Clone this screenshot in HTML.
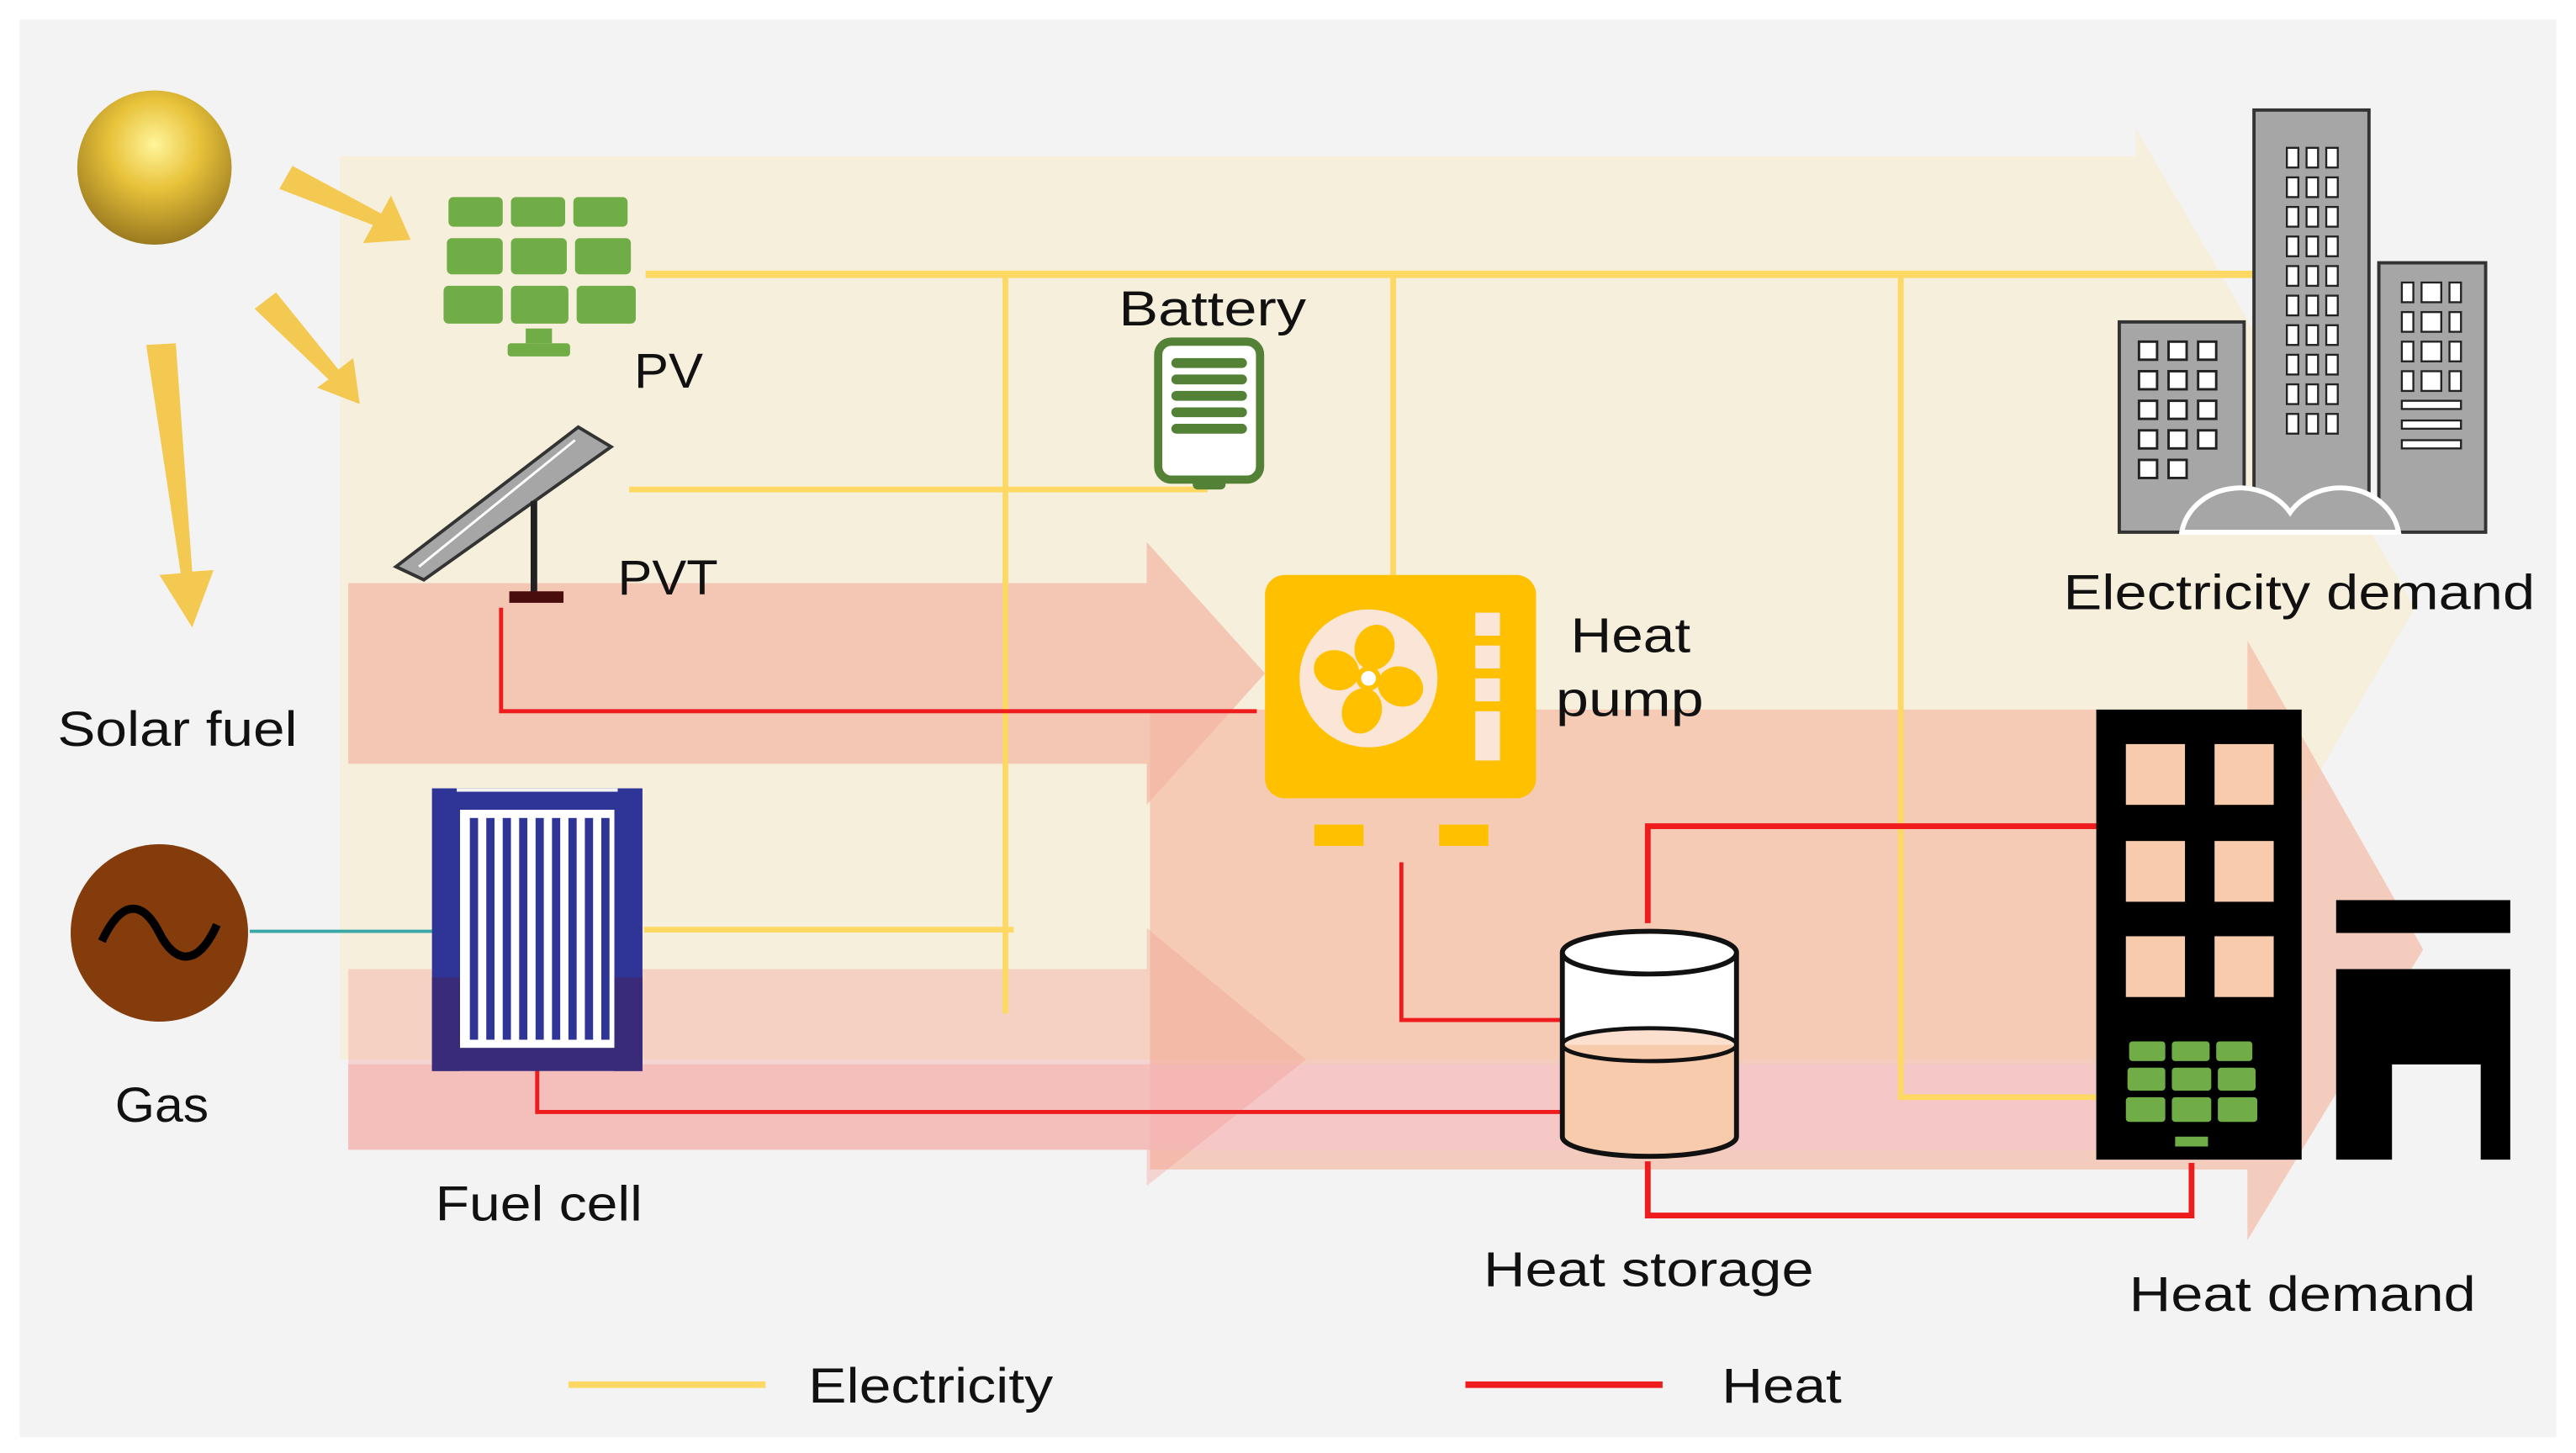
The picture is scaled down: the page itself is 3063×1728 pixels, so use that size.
<!DOCTYPE html>
<html><head><meta charset="utf-8"><style>
html,body{margin:0;padding:0;background:#fff}
svg{display:block}
text{font-family:"Liberation Sans",sans-serif;fill:#111}
</style></head><body>
<svg width="3063" height="1728" viewBox="0 0 1568 884.6" xmlns="http://www.w3.org/2000/svg">
<defs>
<radialGradient id="sun" cx="0.5" cy="0.35" r="0.65">
<stop offset="0" stop-color="#fff59a"/><stop offset="0.45" stop-color="#e8c23a"/><stop offset="1" stop-color="#9a7a20"/>
</radialGradient>
</defs>
<rect x="0" y="0" width="1568" height="885" fill="#fff"/>
<rect x="12" y="12" width="1544" height="863" fill="#f3f3f3"/>
<polygon points="207,95 1300,95 1300,78 1470,370 1300,662 1300,645 207,645" fill="#f6efdc"/>
<polygon points="212,355 698,355 698,330 770,410 698,490 698,465 212,465" fill="#f4b7a2" opacity="0.7"/>
<polygon points="700,432 1368,432 1368,390 1475,578 1368,755 1368,712 700,712" fill="#f4b7a2" opacity="0.65"/>
<rect x="212" y="648" width="1158" height="52" fill="#f5c6c8" opacity="0.75"/>
<polygon points="212,590 698,590 698,565 795,645 698,722 698,700 212,700" fill="#f49c8e" opacity="0.35"/>
<g stroke="#fdd862" stroke-width="3.5" fill="none">
<line x1="393" y1="167" x2="1372" y2="167" stroke-width="4.5"/>
<line x1="612" y1="167" x2="612" y2="617"/>
<line x1="848" y1="167" x2="848" y2="350"/>
<polyline points="1157,167 1157,668 1277,668"/>
<line x1="383" y1="298" x2="735" y2="298"/>
<line x1="392" y1="566" x2="617" y2="566"/>
</g>
<g stroke="#ee1c1c" stroke-width="2.5" fill="none">
<polyline points="305,370 305,433 765,433"/>
<polyline points="853,525 853,621 950,621"/>
<polyline points="327,650 327,677 950,677"/>
<polyline points="1003,562 1003,503 1277,503" stroke-width="3.5"/>
<polyline points="1003,707 1003,740 1334,740 1334,708" stroke-width="3.5"/>
</g>
<line x1="152" y1="567" x2="265" y2="567" stroke="#3aa6a6" stroke-width="2"/>
<circle cx="94" cy="102" r="47" fill="url(#sun)"/>
<g fill="#f4c951">
<polygon points="170,115 178,101 232,130 238,119 250,146 221,148 227,137"/>
<polygon points="155,188 168,178 206,225 215,218 219,246 193,236 200,231"/>
<polygon points="89,210 107,209 117,348 130,347 117,382 97,350 110,349"/>
</g>
<g fill="#70ad47">
<rect x="273" y="120" width="33" height="18" rx="3"/><rect x="311" y="120" width="33" height="18" rx="3"/><rect x="349" y="120" width="33" height="18" rx="3"/>
<rect x="272" y="145" width="34" height="22" rx="3"/><rect x="311" y="145" width="34" height="22" rx="3"/><rect x="350" y="145" width="34" height="22" rx="3"/>
<rect x="270" y="174" width="36" height="23" rx="3"/><rect x="311" y="174" width="35" height="23" rx="3"/><rect x="351" y="174" width="36" height="23" rx="3"/>
<rect x="320" y="200" width="16" height="9"/><rect x="309" y="209" width="38" height="8" rx="2"/>
</g>
<text x="386" y="236" font-size="30" textLength="42" lengthAdjust="spacingAndGlyphs">PV</text>
<polygon points="352,260 372,272 258,353 241,345" fill="#a6a6a6" stroke="#333" stroke-width="2"/>
<line x1="350" y1="268" x2="255" y2="345" stroke="#fff" stroke-width="1.5"/>
<rect x="323" y="305" width="4" height="57" fill="#222"/>
<rect x="310" y="360" width="33" height="7" fill="#4a0d0d"/>
<text x="376" y="362" font-size="30" textLength="61" lengthAdjust="spacingAndGlyphs">PVT</text>
<text x="681" y="198" font-size="30" textLength="114" lengthAdjust="spacingAndGlyphs">Battery</text>
<rect x="705" y="208" width="62" height="84" rx="8" fill="#fff" stroke="#538135" stroke-width="5"/>
<rect x="726" y="292" width="20" height="6" rx="3" fill="#538135"/>
<g fill="#538135"><rect x="713" y="218" width="46" height="6" rx="3"/><rect x="713" y="228" width="46" height="6" rx="3"/><rect x="713" y="238" width="46" height="6" rx="3"/><rect x="713" y="248" width="46" height="6" rx="3"/><rect x="713" y="258" width="46" height="6" rx="3"/></g>
<rect x="770" y="350" width="165" height="136" rx="12" fill="#ffc000"/>
<circle cx="833" cy="413" r="42" fill="#fbe5d6"/>
<g fill="#ffc000">
<ellipse cx="830" cy="394" rx="12" ry="14" transform="rotate(20 833 413)"/><ellipse cx="853" cy="411" rx="14" ry="12" transform="rotate(20 833 413)"/><ellipse cx="836" cy="433" rx="12" ry="14" transform="rotate(20 833 413)"/><ellipse cx="813" cy="415" rx="14" ry="12" transform="rotate(20 833 413)"/>
</g>
<circle cx="833" cy="413" r="6" fill="#fff" stroke="#ffc000" stroke-width="3"/>
<g fill="#fbe5d6"><rect x="898" y="373" width="15" height="14"/><rect x="898" y="393" width="15" height="14"/><rect x="898" y="413" width="15" height="14"/><rect x="898" y="433" width="15" height="30"/></g>
<rect x="800" y="502" width="30" height="13" fill="#ffc000"/><rect x="876" y="502" width="30" height="13" fill="#ffc000"/>
<text x="956" y="397" font-size="30" textLength="73" lengthAdjust="spacingAndGlyphs">Heat</text>
<text x="947" y="436" font-size="30" textLength="90" lengthAdjust="spacingAndGlyphs">pump</text>
<path d="M951,636 A53,10 0 0 1 1057,636 L1057,692 A53,12 0 0 1 951,692 Z" fill="#f8cbad"/>
<path d="M951,580 L951,636 L1057,636 L1057,580 Z" fill="#fff"/>
<path d="M951,636 A53,10 0 0 0 1057,636" fill="none" stroke="#111" stroke-width="2.5"/>
<path d="M951,636 A53,10 0 0 1 1057,636" fill="#fbe0d0" stroke="#111" stroke-width="2.5"/>
<path d="M951,580 L951,692 A53,12 0 0 0 1057,692 L1057,580" fill="none" stroke="#111" stroke-width="3"/>
<ellipse cx="1004" cy="580" rx="53" ry="13" fill="#fff" stroke="#111" stroke-width="3"/>
<text x="903" y="783" font-size="30" textLength="201" lengthAdjust="spacingAndGlyphs">Heat storage</text>
<circle cx="97" cy="568" r="54" fill="#843c0c"/>
<path d="M62,573 C75,545 88,550 97,568 C106,586 120,590 132,563" stroke="#000" stroke-width="5" fill="none"/>
<text x="70" y="683" font-size="30" textLength="57" lengthAdjust="spacingAndGlyphs">Gas</text>
<rect x="263" y="480" width="128" height="172" fill="#2e3596"/>
<rect x="263" y="595" width="128" height="57" fill="#3a2b7a"/>
<rect x="280" y="493" width="94" height="145" fill="#fff"/>
<g fill="#2e3596"><rect x="286" y="498" width="5" height="135"/><rect x="296" y="498" width="5" height="135"/><rect x="306" y="498" width="5" height="135"/><rect x="316" y="498" width="5" height="135"/><rect x="326" y="498" width="5" height="135"/><rect x="336" y="498" width="5" height="135"/><rect x="346" y="498" width="5" height="135"/><rect x="356" y="498" width="5" height="135"/><rect x="366" y="498" width="5" height="135"/></g>
<rect x="263" y="480" width="17" height="172" fill="#2e3596"/><rect x="374" y="480" width="17" height="172" fill="#2e3596"/>
<rect x="263" y="595" width="17" height="57" fill="#3a2b7a"/><rect x="374" y="595" width="17" height="57" fill="#3a2b7a"/>
<rect x="278" y="480" width="98" height="12" fill="#2e3596"/><rect x="278" y="638" width="98" height="12" fill="#3a2b7a"/>
<rect x="278" y="480" width="98" height="2" fill="#f3f3f3"/>
<text x="265" y="743" font-size="30" textLength="126" lengthAdjust="spacingAndGlyphs">Fuel cell</text>
<text x="35" y="454" font-size="30" textLength="146" lengthAdjust="spacingAndGlyphs">Solar fuel</text>
<g fill="#a6a6a6" stroke="#333" stroke-width="2">
<rect x="1290" y="196" width="76" height="128"/>
<rect x="1372" y="67" width="70" height="257"/>
<rect x="1448" y="160" width="65" height="164"/>
<path d="M1328,324 A36,32 0 0 1 1394,312 A36,32 0 0 1 1460,324 Z" fill="#a6a6a6" stroke="#fff" stroke-width="3"/>
</g>
<g fill="#fff" stroke="#222" stroke-width="1.5">
<rect x="1302" y="208" width="11" height="11"/><rect x="1320" y="208" width="11" height="11"/><rect x="1338" y="208" width="11" height="11"/>
<rect x="1302" y="226" width="11" height="11"/><rect x="1320" y="226" width="11" height="11"/><rect x="1338" y="226" width="11" height="11"/>
<rect x="1302" y="244" width="11" height="11"/><rect x="1320" y="244" width="11" height="11"/><rect x="1338" y="244" width="11" height="11"/>
<rect x="1302" y="262" width="11" height="11"/><rect x="1320" y="262" width="11" height="11"/><rect x="1338" y="262" width="11" height="11"/>
<rect x="1302" y="280" width="11" height="11"/><rect x="1320" y="280" width="11" height="11"/>
</g>
<g fill="#fff" stroke="#222" stroke-width="1.2">
<rect x="1392" y="90" width="7" height="12"/><rect x="1404" y="90" width="7" height="12"/><rect x="1416" y="90" width="7" height="12"/>
<rect x="1392" y="108" width="7" height="12"/><rect x="1404" y="108" width="7" height="12"/><rect x="1416" y="108" width="7" height="12"/>
<rect x="1392" y="126" width="7" height="12"/><rect x="1404" y="126" width="7" height="12"/><rect x="1416" y="126" width="7" height="12"/>
<rect x="1392" y="144" width="7" height="12"/><rect x="1404" y="144" width="7" height="12"/><rect x="1416" y="144" width="7" height="12"/>
<rect x="1392" y="162" width="7" height="12"/><rect x="1404" y="162" width="7" height="12"/><rect x="1416" y="162" width="7" height="12"/>
<rect x="1392" y="180" width="7" height="12"/><rect x="1404" y="180" width="7" height="12"/><rect x="1416" y="180" width="7" height="12"/>
<rect x="1392" y="198" width="7" height="12"/><rect x="1404" y="198" width="7" height="12"/><rect x="1416" y="198" width="7" height="12"/>
<rect x="1392" y="216" width="7" height="12"/><rect x="1404" y="216" width="7" height="12"/><rect x="1416" y="216" width="7" height="12"/>
<rect x="1392" y="234" width="7" height="12"/><rect x="1404" y="234" width="7" height="12"/><rect x="1416" y="234" width="7" height="12"/>
<rect x="1392" y="252" width="7" height="12"/><rect x="1404" y="252" width="7" height="12"/><rect x="1416" y="252" width="7" height="12"/>
<rect x="1462" y="172" width="7" height="12"/><rect x="1474" y="172" width="12" height="12"/><rect x="1491" y="172" width="7" height="12"/>
<rect x="1462" y="190" width="7" height="12"/><rect x="1474" y="190" width="12" height="12"/><rect x="1491" y="190" width="7" height="12"/>
<rect x="1462" y="208" width="7" height="12"/><rect x="1474" y="208" width="12" height="12"/><rect x="1491" y="208" width="7" height="12"/>
<rect x="1462" y="226" width="7" height="12"/><rect x="1474" y="226" width="12" height="12"/><rect x="1491" y="226" width="7" height="12"/>
<rect x="1462" y="244" width="36" height="5"/><rect x="1462" y="256" width="36" height="5"/><rect x="1462" y="268" width="36" height="5"/>
</g>
<text x="1256" y="371" font-size="30" textLength="287" lengthAdjust="spacingAndGlyphs">Electricity demand</text>
<rect x="1276" y="432" width="125" height="274" fill="#000"/>
<g fill="#f8cbad">
<rect x="1294" y="453" width="36" height="37"/><rect x="1348" y="453" width="36" height="37"/>
<rect x="1294" y="512" width="36" height="37"/><rect x="1348" y="512" width="36" height="37"/>
<rect x="1294" y="570" width="36" height="37"/><rect x="1348" y="570" width="36" height="37"/>
</g>
<g fill="#70ad47">
<rect x="1296" y="634" width="22" height="12" rx="2"/><rect x="1322" y="634" width="23" height="12" rx="2"/><rect x="1349" y="634" width="22" height="12" rx="2"/>
<rect x="1295" y="650" width="23" height="14" rx="2"/><rect x="1322" y="650" width="24" height="14" rx="2"/><rect x="1350" y="650" width="23" height="14" rx="2"/>
<rect x="1294" y="668" width="24" height="15" rx="2"/><rect x="1322" y="668" width="24" height="15" rx="2"/><rect x="1350" y="668" width="24" height="15" rx="2"/>
<rect x="1324" y="692" width="20" height="6"/>
</g>
<rect x="1422" y="548" width="106" height="20" fill="#000"/>
<path d="M1422,590 L1528,590 L1528,706 L1510,706 L1510,648 L1456,648 L1456,706 L1422,706 Z" fill="#000"/>
<text x="1296" y="798" font-size="30" textLength="211" lengthAdjust="spacingAndGlyphs">Heat demand</text>
<line x1="346" y1="843" x2="466" y2="843" stroke="#fdd862" stroke-width="4"/>
<text x="492" y="854" font-size="30" textLength="149" lengthAdjust="spacingAndGlyphs">Electricity</text>
<line x1="892" y1="843" x2="1012" y2="843" stroke="#ee1c1c" stroke-width="4"/>
<text x="1048" y="854" font-size="30" textLength="73" lengthAdjust="spacingAndGlyphs">Heat</text>
</svg>
</body></html>
